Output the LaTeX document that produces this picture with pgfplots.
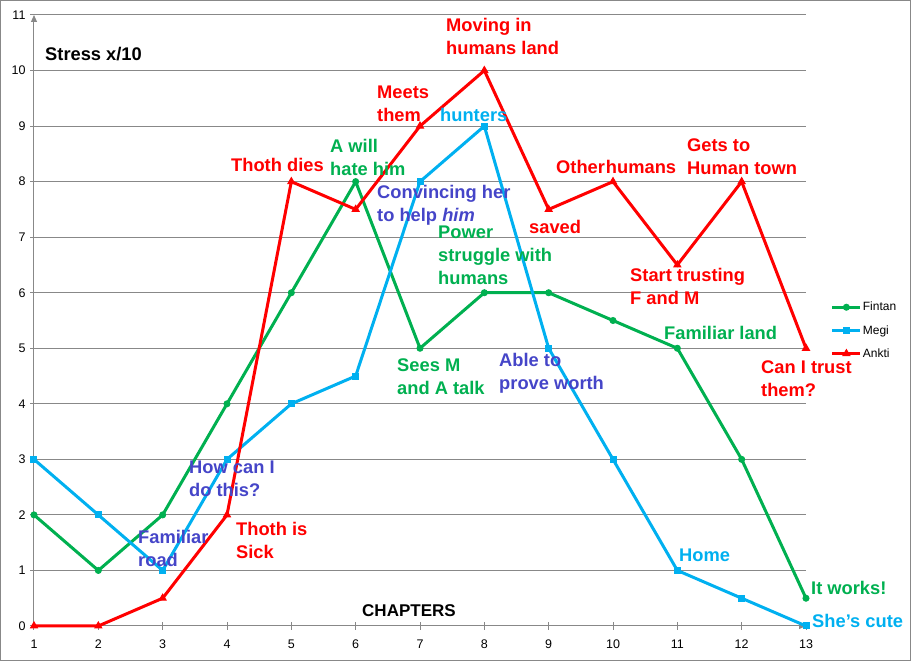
\documentclass[border=0pt]{standalone}
\usepackage{pgfplots}
\pgfplotsset{compat=1.18}
\usepackage{fontspec}
\setmainfont{Liberation Sans}
\usetikzlibrary{arrows.meta}
\definecolor{cgreen}{HTML}{00B050}
\definecolor{cblue}{HTML}{00B0F0}
\definecolor{cred}{HTML}{FF0000}
\definecolor{cpurp}{HTML}{4545C8}
\definecolor{cgrid}{HTML}{888888}
\newcommand\annfont{\fontsize{18.3pt}{23pt}\selectfont\bfseries}
\newcommand\ticfont{\fontsize{12.5pt}{14pt}\selectfont}
\newcommand\legfont{\fontsize{12pt}{14pt}\selectfont}
\newcommand\ann[4]{\node[anchor=base west,inner sep=0pt,text=#3,font=\annfont] at (#1pt,{(655-#2)*1pt}) {#4};}
\begin{document}
\begin{tikzpicture}
\path[use as bounding box] (0pt,0pt) rectangle (911pt,661pt);
\draw[cgrid,line width=1pt] (0.5pt,0.5pt) rectangle (910.5pt,660.5pt);
\begin{axis}[
  at={(34pt,35pt)}, anchor=south west,
  scale only axis, width=772pt, height=611pt,
  xmin=1, xmax=13, ymin=0, ymax=11,
  xtick={1,...,13}, ytick={0,...,11},
  axis x line*=bottom, axis y line*=left,
  axis line style={cgrid,line width=1pt},
  x axis line style={-{Triangle[length=7pt,width=6pt]}},
  y axis line style={-{Triangle[length=7pt,width=6pt]}},
  ymajorgrids, grid style={cgrid,line width=1pt},
  tick align=center, major tick length=8pt,
  tick style={cgrid,line width=1pt},
  ticklabel style={font=\ticfont},
  xticklabel style={yshift=-6pt},
  yticklabel style={xshift=-1pt},
  /pgf/number format/assume math mode=true,
  clip=false,
  legend style={draw=none, fill=none, at={(1.032,0.532)}, anchor=north west,
    font=\legfont, row sep=11pt, inner sep=0pt,
    nodes={inner sep=1pt}},
  legend cell align=left,
  legend image code/.code={\draw[mark repeat=2,mark phase=2,#1] plot coordinates {(0pt,0pt)(14pt,0pt)(28pt,0pt)};},
]
\addplot[cgreen, line width=3pt, mark=*, mark size=3pt, mark options={solid,line width=1pt}] coordinates {
(1,2)(2,1)(3,2)(4,4)(5,6)(6,8)(7,5)(8,6)(9,6)(10,5.5)(11,5)(12,3)(13,0.5)};
\addlegendentry{Fintan}
\addplot[cblue, line width=3pt, mark=square*, mark size=3pt, mark options={solid,line width=1pt}] coordinates {
(1,3)(2,2)(3,1)(4,3)(5,4)(6,4.5)(7,8)(8,9)(9,5)(10,3)(11,1)(12,0.5)(13,0)};
\addlegendentry{Megi}
\addplot[cred, line width=3pt, mark=triangle*, mark size=4pt, mark options={solid,line width=1pt}] coordinates {
(1,0)(2,0)(3,0.5)(4,2)(5,8)(6,7.5)(7,9)(8,10)(9,7.5)(10,8)(11,6.5)(12,8)(13,5)};
\addlegendentry{Ankti}
\end{axis}
\ann{45}{55}{black}{Stress x/10}
\ann{446}{26}{cred}{Moving in}
\ann{446}{49}{cred}{humans land}
\ann{377}{93}{cred}{Meets}
\ann{377}{116}{cred}{them}
\ann{440}{116}{cblue}{hunters}
\ann{330}{147}{cgreen}{A will}
\ann{330}{170}{cgreen}{hate him}
\ann{231}{166}{cred}{Thoth dies}
\ann{377}{193}{cpurp}{Convincing her}
\ann{377}{216}{cpurp}{to help \textit{him}}
\ann{438}{233}{cgreen}{Power}
\ann{438}{256}{cgreen}{struggle with}
\ann{438}{279}{cgreen}{humans}
\ann{529}{228}{cred}{saved}
\ann{556}{168}{cred}{Other\hspace{1pt}humans}
\ann{687}{146}{cred}{Gets to}
\ann{687}{169}{cred}{Human town}
\ann{630}{276}{cred}{Start trusting}
\ann{630}{299}{cred}{F and M}
\ann{664}{334}{cgreen}{Familiar land}
\ann{761}{368}{cred}{Can I trust}
\ann{761}{391}{cred}{them?}
\ann{397}{366}{cgreen}{Sees M}
\ann{397}{389}{cgreen}{and A talk}
\ann{499}{361}{cpurp}{Able to}
\ann{499}{384}{cpurp}{prove worth}
\ann{189}{468}{cpurp}{How can I}
\ann{189}{491}{cpurp}{do this?}
\ann{138}{538}{cpurp}{Familiar}
\ann{138}{561}{cpurp}{road}
\ann{236}{530}{cred}{Thoth is}
\ann{236}{553}{cred}{Sick}
\ann{679}{556}{cblue}{Home}
\ann{811}{589}{cgreen}{It works!}
\ann{812}{622}{cblue}{She's cute}
\node[anchor=base west,inner sep=0pt,font=\fontsize{17pt}{20pt}\selectfont\bfseries] at (362pt,{(655-611)*1pt}) {CHAPTERS};
\end{tikzpicture}
\end{document}
